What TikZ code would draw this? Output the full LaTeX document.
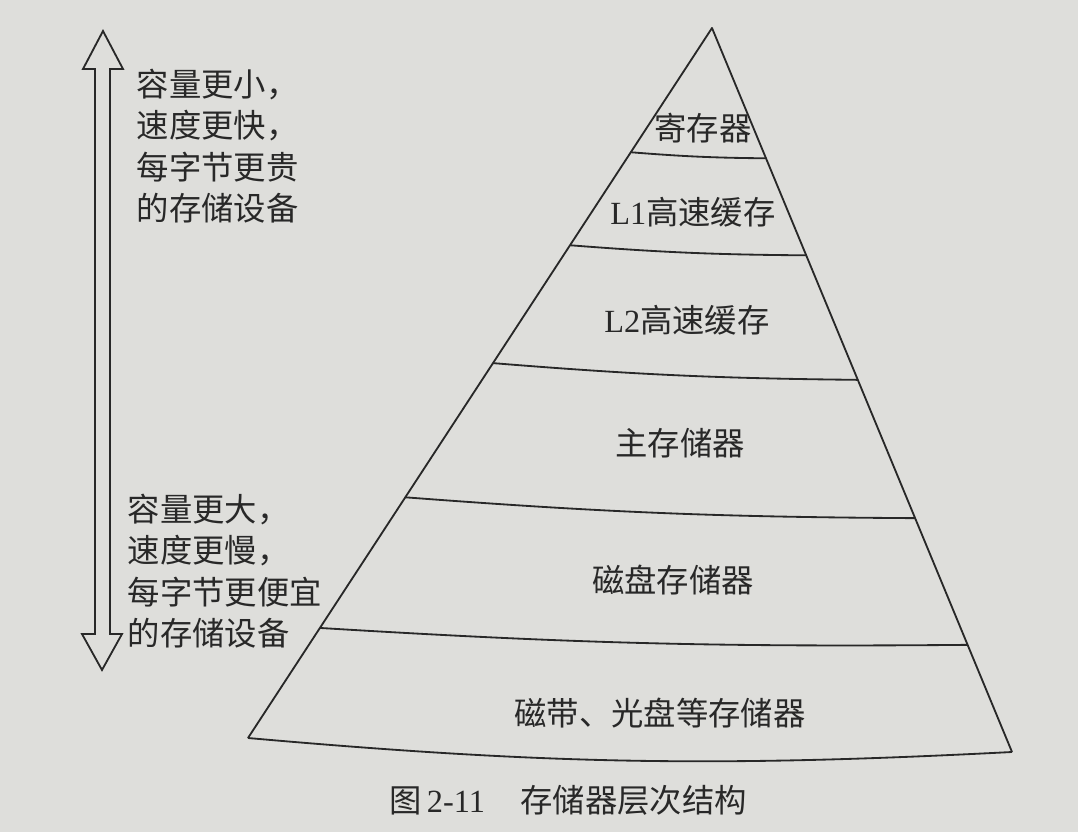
\documentclass[tikz,border=0pt]{standalone}
\usepackage{fontspec}
\setmainfont{Liberation Serif}
\newfontfamily\cjk{Noto Sans CJK SC}
\usetikzlibrary{calc}

\definecolor{paper}{RGB}{222,222,219}
\definecolor{ink}{RGB}{40,40,40}

\begin{document}
\begin{tikzpicture}[x=0.025cm,y=-0.025cm,
    line width=1.3pt,
    ink,
    layer/.style = {
      font = \fontsize{23}{28}\selectfont\cjk,
      inner sep = 0pt
    },
    note/.style = {
      font = \fontsize{23}{29.5}\selectfont\cjk,
      align = left,
      anchor = north west,
      inner sep = 0pt
    }
  ]
  \fill[paper] (0,0) rectangle (1078,832);

  \coordinate (apex) at (712,28);
  \coordinate (bl) at (248,738);
  \coordinate (br) at (1012,752);

  % pyramid
  \draw[line join=round] (bl) -- (apex) -- (br);
  \draw (bl) to[bend right=4] (br);

  % layer borders
  \foreach \a/\b [count=\i] in {0.175/0.180, 0.306/0.314, 0.472/0.486, 0.661/0.677, 0.845/0.852} {
    \coordinate (l\i) at ($(apex)!\a!(bl)$);
    \coordinate (r\i) at ($(apex)!\b!(br)$);
    \draw (l\i) to[bend right=2] (r\i);
  }

  \node[layer] (reg)  at (703,128) {寄存器};
  \node[layer] (lone) at (693,212) {{\rmfamily L1}高速缓存};
  \node[layer] (ltwo) at (687,320) {{\rmfamily L2}高速缓存};
  \node[layer] (main) at (680,443) {主存储器};
  \node[layer] (disk) at (673,580) {磁盘存储器};
  \node[layer] (tape) at (660,713) {磁带、光盘等存储器};

  % hollow double arrow
  \draw[line join=miter] (103,31) -- (123,69) -- (110,69) -- (110,634) -- (122,634) -- (102,670)
    -- (82,634) -- (95,634) -- (95,69) -- (83,69) -- cycle;

  \node[note] (fast) at (136,68)  {容量更小，\\速度更快，\\每字节更贵\\的存储设备};
  \node[note] (slow) at (127,493) {容量更大，\\速度更慢，\\每字节更便宜\\的存储设备};

  \node[layer] (cap) at (568,800) {图\,{\rmfamily 2-11}\hspace{1.1em}存储器层次结构};
\end{tikzpicture}
\end{document}
